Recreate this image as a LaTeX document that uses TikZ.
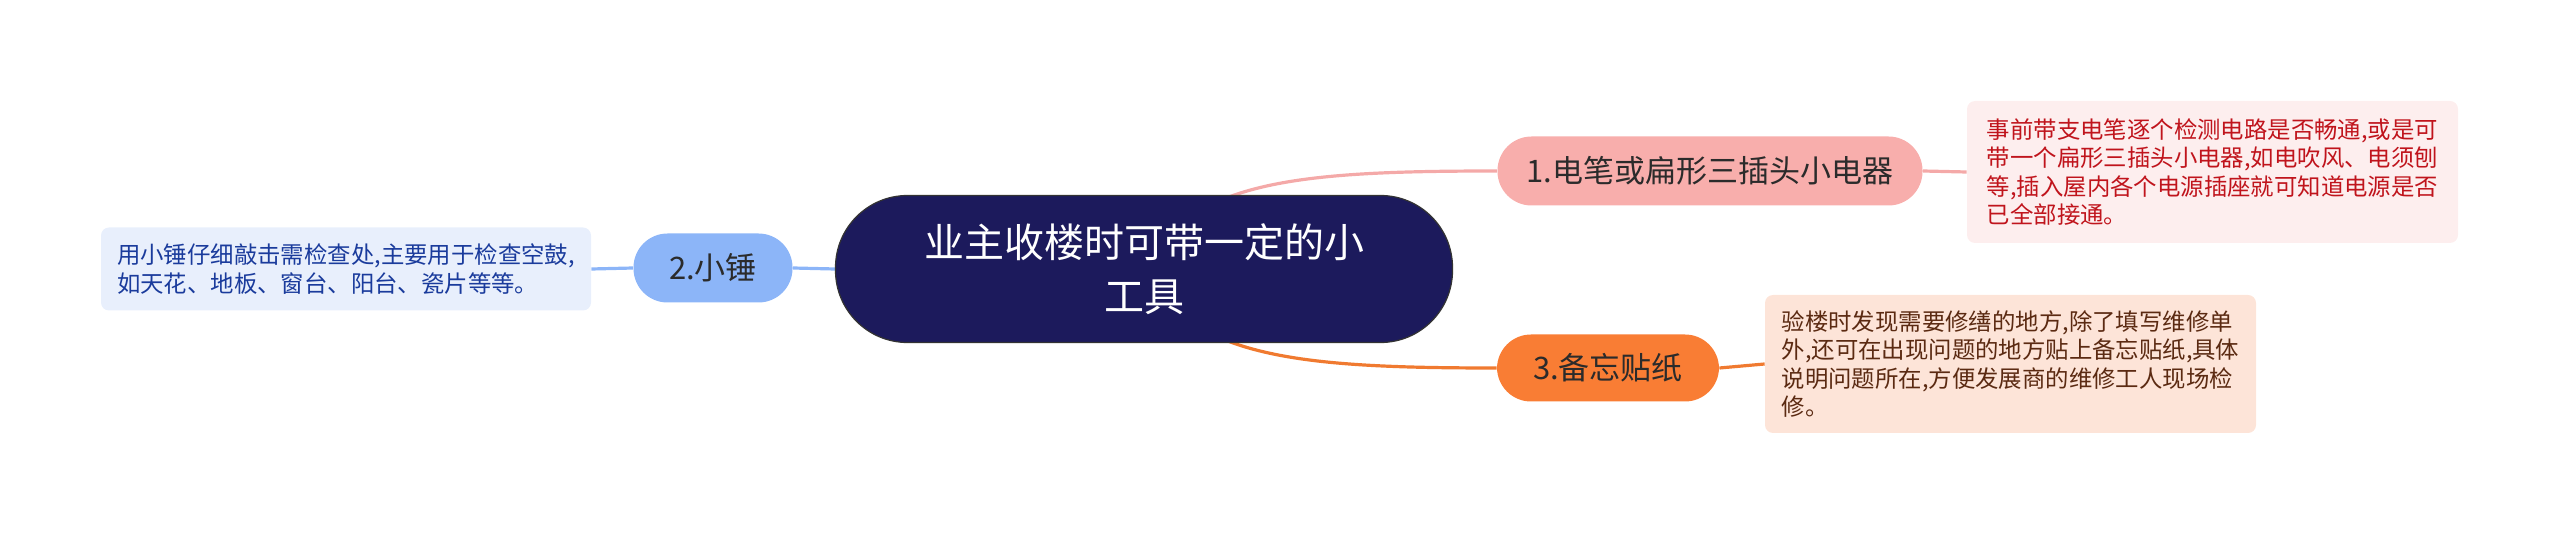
\documentclass[tikz,border=0pt]{standalone}
\usepackage{fontspec}
\setmainfont{Noto Sans CJK SC}
\usetikzlibrary{backgrounds}
\definecolor{navy}{HTML}{1C1A5C}
\definecolor{pinkfill}{HTML}{F8AEAC}
\definecolor{pinkline}{HTML}{F4A9A8}
\definecolor{pinkdesc}{HTML}{FDEEEE}
\definecolor{redtext}{HTML}{C0141C}
\definecolor{bluefill}{HTML}{8CB5F8}
\definecolor{bluedesc}{HTML}{E8EFFC}
\definecolor{bluetext}{HTML}{1A3B9C}
\definecolor{orangefill}{HTML}{F97D34}
\definecolor{orangeline}{HTML}{F07A30}
\definecolor{orangedesc}{HTML}{FDE4D8}
\definecolor{browntext}{HTML}{5B2A12}
\definecolor{darktext}{HTML}{2B2B2B}
\tikzset{
  rootbox/.style={fill=navy, draw=black!80, line width=0.6pt, rounded corners=36pt, minimum width=308.5pt, minimum height=73.5pt, text=white, align=center, font=\fontsize{20}{27}\selectfont},
  branchbox/.style={rounded corners=17pt, minimum height=34.5pt, text=darktext, font=\fontsize{15.5}{18}\selectfont, inner sep=0pt},
  descbox/.style={rounded corners=4pt, align=left, inner sep=0pt, font=\fontsize{11.7}{14.3}\selectfont},
  conn/.style={line width=1.6pt}
}
\begin{document}
\begin{tikzpicture}[x=0.5pt,y=-0.5pt]
\useasboundingbox (0,0) rectangle (2560,539);
\node[rootbox] (c) at (1144,269) {业主收楼时可带一定的小\\工具};
\node[branchbox, fill=pinkfill, minimum width=212.5pt] (n1) at (1710,171) {1.电笔或扁形三插头小电器};
\node[branchbox, fill=bluefill, minimum width=79.5pt] (n2) at (713,268) {2.小锤};
\node[branchbox, fill=orangefill, minimum width=111pt, minimum height=33.5pt] (n3) at (1608,368) {3.备忘贴纸};
\node[descbox, fill=pinkdesc, text=redtext, minimum width=245.5pt, minimum height=71pt] (d1) at (2212.5,172) {事前带支电笔逐个检测电路是否畅通,或是可\\带一个扁形三插头小电器,如电吹风、电须刨\\等,插入屋内各个电源插座就可知道电源是否\\已全部接通。};
\node[descbox, fill=bluedesc, text=bluetext, minimum width=245pt, minimum height=41.5pt] (d2) at (346,269) {用小锤仔细敲击需检查处,主要用于检查空鼓,\\如天花、地板、窗台、阳台、瓷片等等。};
\node[descbox, fill=orangedesc, text=browntext, minimum width=245.5pt, minimum height=69pt] (d3) at (2010.5,364) {验楼时发现需要修缮的地方,除了填写维修单\\外,还可在出现问题的地方贴上备忘贴纸,具体\\说明问题所在,方便发展商的维修工人现场检\\修。};
\begin{pgfonlayer}{background}
\draw[conn, pinkline] (c.center) .. controls +(46,-89) and +(-197,0) .. (n1.west);
\draw[conn, orangeline] (c.center) .. controls +(46,89) and +(-197,0) .. (n3.west);
\draw[conn, bluefill] (n2.east) -- (c.west);
\draw[conn, pinkline] (n1.east) -- (d1.west);
\draw[conn, orangeline] (n3.east) -- (d3.west);
\draw[conn, bluefill] (n2.west) -- (d2.east);
\end{pgfonlayer}
\end{tikzpicture}
\end{document}
